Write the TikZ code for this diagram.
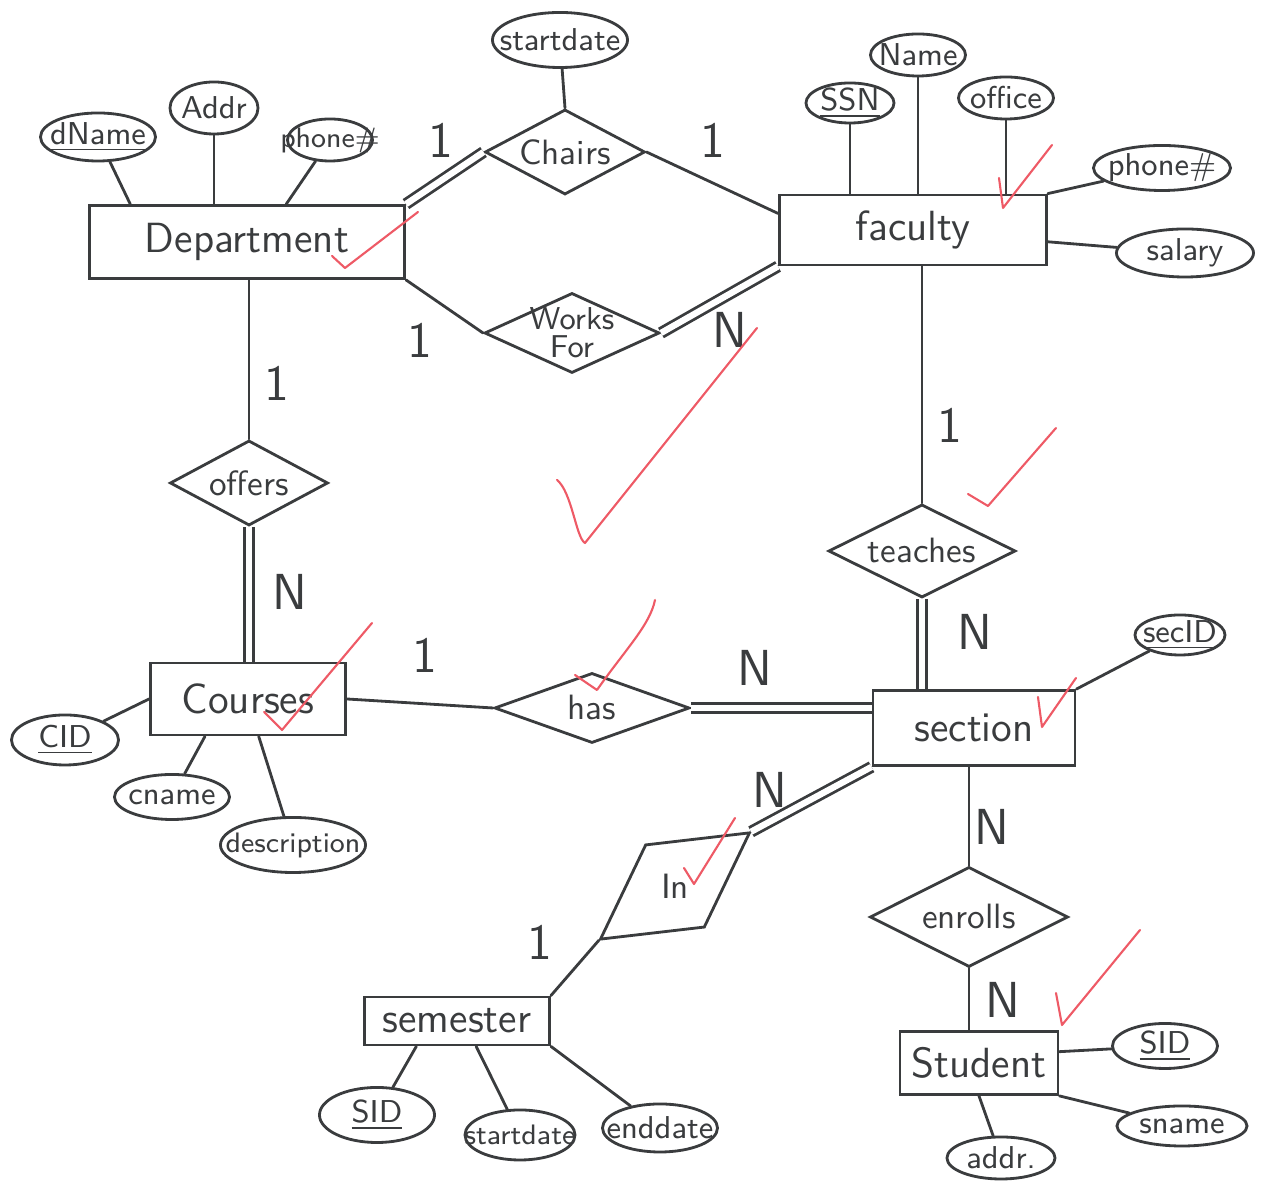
\documentclass[tikz,border=0pt]{standalone}
\usepackage{tikz}
\usetikzlibrary{positioning, shapes.geometric, calc}
\definecolor{inkgray}{HTML}{3A3C3E}
\definecolor{checkred}{HTML}{EE5A66}

\begin{document}
\begin{tikzpicture}[
  x=0.01cm, y=-0.01cm,
  color=inkgray,
  font=\sffamily,
  ent/.style={rectangle, draw, thick, fill=white, inner sep=2pt, font=\sffamily\large},
  rel/.style={diamond, draw, thick, fill=white, inner sep=0pt,
    label={[align=center, font=\sffamily]center:#1}},
  attr/.style={ellipse, draw, thick, fill=white, inner sep=0pt,
    label={[font=\sffamily\small]center:#1}},
  card/.style={font=\sffamily\Large},
  link/.style={draw, thick, line cap=round},
  total/.style={draw, thick, double, double distance=1.8pt},
  grade/.style={draw=checkred, line width=0.6pt, line cap=round, line join=round}
]
\useasboundingbox (0,0) rectangle (1262,1183);

% entities
\node[ent, minimum width=3.15cm, minimum height=0.73cm] (dept) at (247,242) {Department};
\node[ent, minimum width=2.67cm, minimum height=0.70cm] (fac) at (913,230) {faculty};
\node[ent, minimum width=1.95cm, minimum height=0.72cm] (course) at (248,699) {Courses};
\node[ent, minimum width=2.02cm, minimum height=0.75cm] (sect) at (974,728) {section};
\node[ent, minimum width=1.85cm, minimum height=0.48cm] (sem) at (457,1021) {semester};
\node[ent, minimum width=1.58cm, minimum height=0.63cm] (stud) at (979,1063) {Student};

% relationships
\node[rel=Chairs, minimum width=1.60cm, minimum height=0.85cm] (chairs) at (565,152) {};
\node[rel={\small Works\\[-4pt]\small For}, minimum width=1.75cm, minimum height=0.80cm] (works) at (572,333) {};
\node[rel=offers, minimum width=1.58cm, minimum height=0.85cm] (offers) at (249,483) {};
\node[rel=teaches, minimum width=1.87cm, minimum height=0.93cm] (teaches) at (922,551) {};
\node[rel=has, minimum width=1.95cm, minimum height=0.70cm] (has) at (592,708) {};
\node[rel=enrolls, minimum width=1.98cm, minimum height=1.00cm] (enrolls) at (969,917) {};
\node[diamond, draw, thick, fill=white, inner sep=0pt, rotate=35.5,
  minimum width=1.84cm, minimum height=1.02cm,
  label={[font=\sffamily]center:In}] (inrel) at (675,886) {};

% attributes
\node[attr=\underline{dName}, minimum width=1.15cm, minimum height=0.48cm] (dname) at (98,137) {};
\node[attr=Addr, minimum width=0.88cm, minimum height=0.52cm] (addr) at (214,108) {};
\node[attr={\footnotesize phone\#}, minimum width=0.85cm, minimum height=0.42cm] (dphone) at (330,140) {};
\node[attr=startdate, minimum width=1.35cm, minimum height=0.55cm] (cstart) at (560,40) {};
\node[attr=\underline{SSN}, minimum width=0.88cm, minimum height=0.40cm] (ssn) at (850,103) {};
\node[attr=Name, minimum width=0.95cm, minimum height=0.42cm] (fname) at (918,55) {};
\node[attr=office, minimum width=0.95cm, minimum height=0.42cm] (office) at (1006,98) {};
\node[attr=phone\#, minimum width=1.37cm, minimum height=0.45cm] (fphone) at (1162,168) {};
\node[attr=salary, minimum width=1.37cm, minimum height=0.48cm] (salary) at (1185,253) {};
\node[attr=\underline{CID}, minimum width=1.07cm, minimum height=0.50cm] (cid) at (65,740) {};
\node[attr=cname, minimum width=1.15cm, minimum height=0.45cm] (cname) at (172,797) {};
\node[attr={\footnotesize description}, minimum width=1.45cm, minimum height=0.55cm] (descr) at (293,845) {};
\node[attr=\underline{secID}, minimum width=0.90cm, minimum height=0.40cm] (secid) at (1180,635) {};
\node[attr=\underline{SID}, minimum width=1.05cm, minimum height=0.45cm] (stsid) at (1165,1046) {};
\node[attr=sname, minimum width=1.30cm, minimum height=0.40cm] (sname) at (1182,1126) {};
\node[attr=addr., minimum width=1.08cm, minimum height=0.42cm] (staddr) at (1001,1158) {};
\node[attr=\underline{SID}, minimum width=1.15cm, minimum height=0.55cm] (semsid) at (377,1115) {};
\node[attr={\footnotesize startdate}, minimum width=1.10cm, minimum height=0.50cm] (semstart) at (520,1135) {};
\node[attr=enddate, minimum width=1.15cm, minimum height=0.48cm] (semend) at (660,1128) {};

% relationship lines
\draw[total] (dept.north east) -- (chairs.west);
\draw[link] (chairs.east) -- (fac.173);
\draw[link] (cstart) -- (chairs.north);
\draw[link] (dept.south east) -- (works.west);
\draw[total] (fac.south west) -- (works.east);
\draw[link] (offers.north |- dept.south) -- (offers.north);
\draw[total] (offers.south) -- (offers.south |- course.north);
\draw[link] (teaches.north |- fac.south) -- (teaches.north);
\draw[total] (teaches.south) -- (teaches.south |- sect.north);
\draw[link] (course.east) -- (has.west);
\draw[total] (has.east) -- (has.east -| sect.west);
\draw[total] (sect.south west) -- (inrel.east);
\draw[link] (inrel.west) -- (sem.north east);
\draw[link] (enrolls.north |- sect.south) -- (enrolls.north);
\draw[link] (enrolls.south) -- (enrolls.south |- stud.north);

% attribute lines
\draw[link] (dname) -- (dept.162);
\draw[link] (addr) -- (addr |- dept.north);
\draw[link] (dphone) -- (dept.44);
\draw[link] (ssn) -- (ssn |- fac.north);
\draw[link] (fname) -- (fname |- fac.north);
\draw[link] (office) -- (office |- fac.north);
\draw[link] (fphone) -- (fac.north east);
\draw[link] (salary) -- (fac.-5);
\draw[link] (cid) -- (course.west);
\draw[link] (cname) -- (course.221);
\draw[link] (descr) -- (course.286);
\draw[link] (secid) -- (sect.north east);
\draw[link] (stsid) -- (stud.8);
\draw[link] (sname) -- (stud.south east);
\draw[link] (staddr) -- (stud.south);
\draw[link] (semsid) -- (sem.212);
\draw[link] (semstart) -- (sem.307);
\draw[link] (semend) -- (sem.south east);

% cardinalities
\node[card] (dept-chairs) at (441,140) {1};
\node[card] (chairs-fac) at (713,140) {1};
\node[card] (dept-works) at (420,340) {1};
\node[card] (works-fac) at (730,330) {N};
\node[card] (dept-offers) at (277,383) {1};
\node[card] (offers-course) at (290,592) {N};
\node[card] (fac-teaches) at (950,425) {1};
\node[card] (teaches-sect) at (975,632) {N};
\node[card] (course-has) at (425,655) {1};
\node[card] (has-sect) at (755,668) {N};
\node[card] (sect-in) at (770,790) {N};
\node[card] (in-sem) at (540,942) {1};
\node[card] (sect-enrolls) at (992,827) {N};
\node[card] (enrolls-stud) at (1003,1000) {N};

% red check marks
\draw[grade] (332,256) -- (345,268) -- (418,212);
\draw[grade] (999,178) -- (1003,208) -- (1052,145);
\draw[grade] (557,480) .. controls (572,492) and (576,538) .. (585,543) -- (757,328);
\draw[grade] (968,494) -- (988,506) -- (1056,428);
\draw[grade] (264,712) -- (282,730) -- (372,623);
\draw[grade] (575,675) -- (597,690) .. controls (625,650) and (650,625) .. (655,600);
\draw[grade] (1038,697) -- (1042,727) -- (1076,678);
\draw[grade] (684,868) -- (694,884) -- (735,818);
\draw[grade] (1056,993) -- (1062,1025) -- (1140,930);
\end{tikzpicture}
\end{document}
